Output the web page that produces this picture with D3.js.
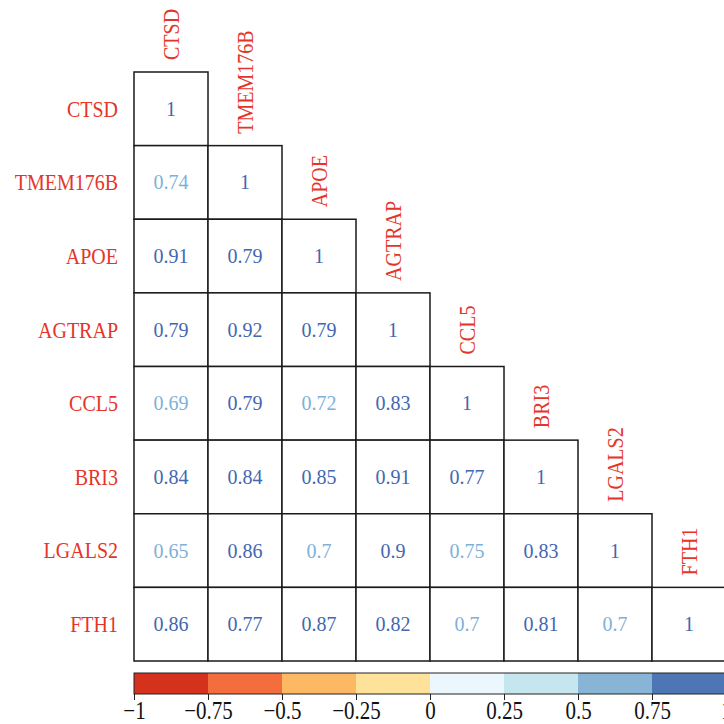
<!DOCTYPE html>
<html>
<head>
<meta charset="utf-8">
<script src="https://cdn.jsdelivr.net/npm/d3@7"></script>
<style>
  html, body { margin: 0; padding: 0; background: #fff; }
  svg { display: block; font-family: "Liberation Serif", "Times New Roman", serif; }
</style>
</head>
<body>
<div id="chart"></div>
<script>
// Genes (rows and columns, same order)
const genes = ["CTSD", "TMEM176B", "APOE", "AGTRAP", "CCL5", "BRI3", "LGALS2", "FTH1"];

// Lower-triangle correlations, one array per row (diagonal included)
const corrCTSD     = [1];
const corrTMEM176B = [0.74, 1];
const corrAPOE     = [0.91, 0.79, 1];
const corrAGTRAP   = [0.79, 0.92, 0.79, 1];
const corrCCL5     = [0.69, 0.79, 0.72, 0.83, 1];
const corrBRI3     = [0.84, 0.84, 0.85, 0.91, 0.77, 1];
const corrLGALS2   = [0.65, 0.86, 0.7, 0.9, 0.75, 0.83, 1];
const corrFTH1     = [0.86, 0.77, 0.87, 0.82, 0.7, 0.81, 0.7, 1];
const corrRows = [corrCTSD, corrTMEM176B, corrAPOE, corrAGTRAP, corrCCL5, corrBRI3, corrLGALS2, corrFTH1];

// Colour bar
const colorBreaks = [-1, -0.75, -0.5, -0.25, 0, 0.25, 0.5, 0.75, 1];
const colorBins = ["#d5321d", "#f46d3d", "#fdb864", "#fee29a", "#ebf7fc", "#c5e5ef", "#88b5d6", "#4e76b5"];
const textBins  = ["#d5321d", "#f46d3d", "#fdb864", "#fee29a", "#ebf7fc", "#c5e5ef", "#7eb0d8", "#4467b0"];
const tickValues = [-1, -0.75, -0.5, -0.25, 0, 0.25, 0.5, 0.75, 1];

const W = 724, H = 724;
const gridLeft = 134, gridRight = 726, gridTop = 72, gridBottom = 661;

const svg = d3.select("#chart").append("svg")
    .attr("width", W)
    .attr("height", H)
    .attr("viewBox", `0 0 ${W} ${H}`);

const x = d3.scaleBand().domain(genes).range([gridLeft, gridRight]);
const y = d3.scaleBand().domain(genes).range([gridTop, gridBottom]);

// bin index, upper edge inclusive (0.75 falls into the 0.5-0.75 bin)
const inner = colorBreaks.slice(1, -1);
const binOf = v => d3.bisectLeft(inner, v);

// flatten the lower triangle
const cells = [];
corrRows.forEach((row, i) => {
    row.forEach((v, j) => cells.push({ row: genes[i], col: genes[j], value: v }));
});

// cell boxes
svg.append("g")
    .selectAll("rect")
    .data(cells)
    .join("rect")
    .attr("x", d => x(d.col))
    .attr("y", d => y(d.row))
    .attr("width", x.bandwidth())
    .attr("height", y.bandwidth())
    .attr("fill", "#fff")
    .attr("stroke", "#1a1a1a")
    .attr("stroke-width", 1.5);

// numbers
svg.append("g")
    .selectAll("text")
    .data(cells)
    .join("text")
    .attr("x", d => x(d.col) + x.bandwidth() / 2)
    .attr("y", d => y(d.row) + y.bandwidth() / 2)
    .attr("dy", "0.35em")
    .attr("text-anchor", "middle")
    .style("font-size", "20px")
    .style("fill", d => textBins[binOf(d.value)])
    .text(d => d.value);

// row labels (source image is slightly stretched vertically)
svg.append("g")
    .selectAll("text")
    .data(genes)
    .join("text")
    .attr("transform", d => `translate(${gridLeft - 16},${y(d) + y.bandwidth() / 2}) scale(1,1.12)`)
    .attr("dy", "0.35em")
    .attr("text-anchor", "end")
    .style("font-size", "20px")
    .style("fill", "#e5352a")
    .text(d => d);

// column labels, rotated, sitting above the diagonal cell
svg.append("g")
    .selectAll("text")
    .data(genes)
    .join("text")
    .attr("transform", d => `translate(${x(d) + x.bandwidth() / 2},${y(d) - 12}) rotate(-90) scale(1,1.15)`)
    .attr("dy", "0.35em")
    .attr("text-anchor", "start")
    .style("font-size", "20px")
    .style("fill", "#e5352a")
    .text(d => d);

// colour bar
const cb = d3.scaleLinear().domain([-1, 1]).range([gridLeft, gridRight]);
const cbTop = 673, cbH = 21;

svg.append("g")
    .selectAll("rect")
    .data(colorBins)
    .join("rect")
    .attr("x", (d, i) => cb(colorBreaks[i]))
    .attr("y", cbTop)
    .attr("width", (d, i) => cb(colorBreaks[i + 1]) - cb(colorBreaks[i]))
    .attr("height", cbH)
    .attr("fill", d => d);

svg.append("rect")
    .attr("x", cb(-1))
    .attr("y", cbTop)
    .attr("width", cb(1) - cb(-1))
    .attr("height", cbH)
    .attr("fill", "none")
    .attr("stroke", "#222")
    .attr("stroke-width", 1);

const axis = svg.append("g")
    .attr("transform", `translate(0,${cbTop + cbH})`)
    .call(d3.axisBottom(cb)
        .tickValues(tickValues)
        .tickSize(6)
        .tickSizeOuter(0)
        .tickFormat(d => d3.format("")(d).replace("-", "\u2212")));

axis.select(".domain").remove();
axis.selectAll(".tick line").attr("stroke", "#222");
axis.selectAll(".tick text")
    .attr("y", 0)
    .attr("dy", 0)
    .attr("transform", "translate(0,25) scale(1,1.2)")
    .style("font-size", "21px")
    .style("font-family", "\"Liberation Serif\", \"Times New Roman\", serif")
    .style("fill", "#111");
</script>
</body>
</html>
